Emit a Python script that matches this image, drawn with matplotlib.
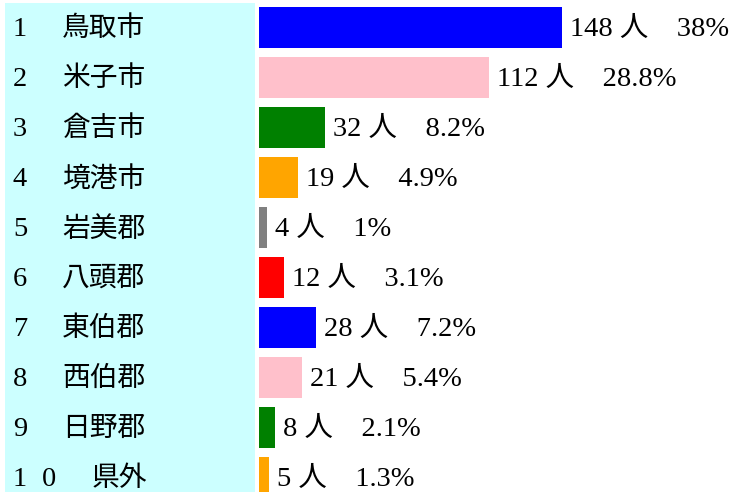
import matplotlib.pyplot as plt
from matplotlib.patches import Rectangle

# data
ranks = ["1", "2", "3", "4", "5", "6", "7", "8", "9", "10"]
areas = ["鳥取市", "米子市", "倉吉市", "境港市", "岩美郡", "八頭郡", "東伯郡", "西伯郡", "日野郡", "県外"]
counts = [148, 112, 32, 19, 4, 12, 28, 21, 8, 5]
shares = ["38%", "28.8%", "8.2%", "4.9%", "1%", "3.1%", "7.2%", "5.4%", "2.1%", "1.3%"]
colors = ["blue", "pink", "green", "orange", "gray", "red", "blue", "pink", "green", "orange"]

plt.rcParams['font.family'] = ['Liberation Serif', 'Noto Sans CJK JP']

W, H = 736, 492
fig = plt.figure(figsize=(W/100, H/100), dpi=100)

# light cyan panel behind the names
fig.patches.append(Rectangle((5/W, 0), 250/W, (H-3)/H, transform=fig.transFigure,
                             facecolor="#ccffff", edgecolor="none", zorder=0))

row = 50.0
top = 27.5
fs = 20.5
dy = 2  # nudge text down a little, pixels

for i in range(len(areas)):
    yf = 1 - (top + row*i + dy)/H
    for k, ch in enumerate(ranks[i]):
        fig.text((13 + 29*k)/W, yf, ch, fontsize=fs, va='center', ha='left')
    xn = 62 + (30 if len(ranks[i]) > 1 else 0)
    fig.text(xn/W, yf, areas[i], fontsize=fs - 0.5, va='center', ha='left')

# bar axes
x0 = 259
ax = fig.add_axes([x0/W, 0, (W-x0)/W, 1])
scale = 2.05  # pixels per person
ax.set_xlim(0, (W-x0)/scale)
ax.set_ylim((H-top)/row, -top/row)
ypos = list(range(len(counts)))
ax.barh(ypos, counts, height=41/row, color=colors, left=0)
for i, c in enumerate(counts):
    ax.text(c + 8/scale, i + dy/row, f"{c} 人　{shares[i]}", fontsize=fs, va='center', ha='left')
ax.axis('off')

fig.savefig("out.png", dpi=100)
